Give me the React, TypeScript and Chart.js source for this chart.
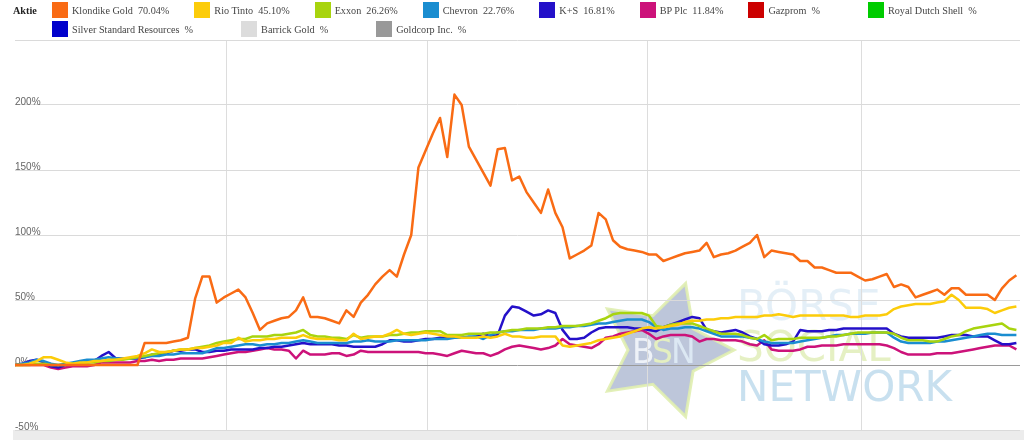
import React, { useEffect, useRef } from "react";
import { Chart, registerables } from "chart.js";

Chart.register(...registerables);

// legend entries (the last five carry no data in this view)
const names = [
  "Klondike Gold",
  "Rio Tinto",
  "Exxon",
  "Chevron",
  "K+S",
  "BP Plc",
  "Gazprom",
  "Royal Dutch Shell",
  "Silver Standard Resources",
  "Barrick Gold",
  "Goldcorp Inc.",
];
const colors = [
  "#f96b14",
  "#fccc0a",
  "#a8d40e",
  "#1a8dd0",
  "#2410c9",
  "#cc127a",
  "#cc0000",
  "#00cc00",
  "#0000cc",
  "#dcdcdc",
  "#999999",
];
const changes = ["70.04", "45.10", "26.26", "22.76", "16.81", "11.84", "", "", "", "", ""];

// performance in % per trading day
const klondike = [
  0, 0, 0, 0, 0, 0, 0, 0, 0, 0,
  0, 0, 0, 0, 0, 0, 0, 0, 17, 17,
  17, 17, 18, 19, 21, 51, 68, 68, 48, 52,
  55, 58, 52, 40, 27, 32, 34, 36, 37, 42,
  52, 37, 37, 36, 34, 32, 42, 37, 48, 54,
  62, 68, 73, 68, 85, 100, 152, 165, 178, 190,
  160, 208, 200, 168, 158, 148, 138, 166, 167, 142,
  145, 133, 125, 117, 135, 117, 106, 82, 85, 88,
  92, 117, 112, 96, 91, 89, 88, 87, 85, 85,
  80, 82, 84, 86, 87, 88, 94, 83, 85, 86,
  88, 91, 94, 100, 83, 88, 87, 86, 85, 80,
  80, 75, 75, 73, 71, 71, 71, 68, 65, 66,
  68, 70, 60, 62, 60, 52, 54, 56, 58, 54,
  59, 59, 54, 54, 54, 54, 50, 59, 65, 69,
];
const rioTinto = [
  0, 0, 1, 3, 6, 6, 4, 2, 1, 2,
  2, 3, 3, 4, 4, 5, 6, 7, 9, 12,
  10, 10, 11, 12, 12, 13, 13, 14, 15, 17,
  17, 21, 18, 19, 19, 20, 20, 21, 21, 21,
  23, 21, 20, 20, 20, 19, 19, 24, 20, 21,
  22, 22, 24, 27, 24, 23, 24, 25, 24, 23,
  22, 22, 21, 21, 21, 22, 21, 22, 24, 22,
  22, 21, 21, 22, 22, 22, 15, 14, 15, 16,
  17, 19, 20, 21, 22, 24, 26, 28, 29, 28,
  29, 30, 31, 33, 34, 34, 35, 35, 36, 36,
  37, 37, 37, 37, 38, 38, 39, 38, 37, 38,
  38, 38, 38, 38, 38, 38, 37, 37, 38, 38,
  38, 39, 43, 45, 46, 47, 47, 47, 48, 49,
  54, 50, 44, 44, 44, 43, 40, 42, 44, 45,
];
const exxon = [
  0, 0, 0, 1, 1, 0, 0, 0, 1, 1,
  2, 2, 3, 3, 4, 4, 5, 6, 7, 8,
  9, 10, 11, 12, 12, 13, 14, 15, 17, 18,
  19, 20, 20, 22, 22, 22, 23, 23, 24, 25,
  27, 23, 22, 22, 21, 21, 20, 23, 21, 22,
  22, 22, 23, 23, 24, 25, 25, 26, 26, 26,
  23, 23, 23, 24, 24, 24, 25, 25, 26, 27,
  27, 28, 28, 28, 29, 29, 30, 30, 30, 31,
  32, 34, 36, 39, 40, 40, 40, 40, 38, 30,
  29, 31, 32, 32, 32, 30, 28, 26, 24, 24,
  24, 23, 21, 20, 23, 19, 20, 20, 20, 21,
  21, 21, 21, 22, 22, 23, 24, 25, 25, 25,
  25, 25, 24, 21, 19, 19, 19, 18, 18, 20,
  22, 23, 26, 28, 29, 30, 31, 32, 28, 27,
];
const chevron = [
  0, 1, 2, 4, 3, 1, 0, 1, 2, 3,
  4, 4, 5, 6, 5, 5, 5, 6, 6, 7,
  7, 8, 8, 9, 9, 9, 9, 11, 13, 13,
  14, 15, 16, 16, 15, 16, 16, 17, 17, 18,
  19, 18, 17, 17, 17, 17, 17, 18, 18, 19,
  18, 18, 18, 19, 19, 19, 19, 19, 20, 20,
  20, 21, 21, 22, 22, 20, 23, 25, 26, 26,
  27, 27, 27, 28, 28, 28, 29, 29, 30, 30,
  31, 32, 32, 33, 34, 35, 35, 35, 33, 29,
  27, 28, 28, 29, 29, 28, 26, 24, 22, 22,
  22, 22, 21, 20, 18, 17, 17, 17, 17, 18,
  19, 20, 21, 22, 23, 23, 24, 24, 24, 25,
  25, 25, 21, 18, 17, 17, 17, 17, 18, 18,
  19, 20, 21, 22, 23, 24, 24, 23, 23, 23,
];
const kPlusS = [
  0, 1, 3, 4, 2, -1, -2, 0, 1, 1,
  2, 3, 7, 10, 5, 5, 5, 5, 6, 8,
  8, 9, 11, 11, 12, 12, 10, 10, 11, 11,
  12, 12, 12, 12, 13, 13, 14, 14, 15, 16,
  17, 16, 16, 16, 16, 15, 15, 14, 14, 14,
  14, 16, 19, 19, 18, 18, 19, 20, 20, 21,
  21, 21, 21, 21, 22, 24, 22, 23, 38, 45,
  44, 41, 38, 39, 42, 40, 27, 20, 20, 21,
  25, 28, 29, 29, 29, 29, 28, 28, 27, 26,
  29, 31, 33, 35, 37, 36, 27, 26, 25, 26,
  27, 25, 22, 20, 16, 15, 15, 16, 18, 27,
  26, 26, 26, 27, 27, 28, 28, 28, 28, 28,
  28, 28, 24, 22, 21, 21, 21, 21, 21, 22,
  23, 23, 23, 22, 22, 22, 19, 16, 16, 17,
];
const bpPlc = [
  0, 0, 0, 0, 0, -2, -3, -2, -1, -1,
  -1, 0, 2, 2, 2, 2, 2, 3, 3, 4,
  3, 4, 4, 5, 5, 5, 5, 6, 7, 8,
  9, 10, 10, 11, 12, 13, 12, 12, 11, 5,
  11, 8, 8, 8, 9, 9, 7, 8, 11, 10,
  10, 10, 10, 10, 10, 10, 10, 9, 9, 8,
  7, 9, 11, 10, 9, 9, 7, 9, 12, 14,
  15, 14, 13, 12, 13, 15, 20, 16, 15, 14,
  13, 16, 21, 22, 24, 25, 26, 27, 24, 20,
  22, 23, 23, 23, 22, 18, 20, 20, 19, 19,
  19, 18, 16, 15, 19, 12, 11, 11, 11, 12,
  14, 14, 15, 15, 15, 16, 16, 16, 16, 16,
  16, 15, 13, 10, 8, 8, 8, 8, 9, 9,
  9, 10, 11, 12, 13, 14, 15, 15, 15, 12,
];
const series = [klondike, rioTinto, exxon, chevron, kPlusS, bpPlc];

// month boundaries, in trading-day units
const monthBreaks = [29.3, 57.2, 87.8, 117.5];

const watermark = {
  id: "bsnWatermark",
  beforeDraw(chart: any) {
    const { ctx, chartArea } = chart;
    ctx.save();
    ctx.fillStyle = "#ffffff";
    ctx.fillRect(0, 0, chart.width, chart.height);
    ctx.fillStyle = "#ececec";
    ctx.fillRect(chartArea.left - 2, chartArea.bottom, chart.width, chart.height - chartArea.bottom);

    // star
    const cx = 664;
    const cy = 350;
    const R = 70;
    const r = 36;
    ctx.beginPath();
    for (let k = 0; k < 10; k++) {
      const ang = ((-72 + k * 36) * Math.PI) / 180;
      const rad = k % 2 === 0 ? R : r;
      const px = cx + rad * Math.cos(ang);
      const py = cy + rad * Math.sin(ang);
      if (k === 0) ctx.moveTo(px, py);
      else ctx.lineTo(px, py);
    }
    ctx.closePath();
    ctx.fillStyle = "rgba(178,188,212,0.85)";
    ctx.fill();
    ctx.lineWidth = 3;
    ctx.strokeStyle = "rgba(224,238,176,0.9)";
    ctx.stroke();

    ctx.textBaseline = "alphabetic";
    ctx.font = '33px "DejaVu Sans", sans-serif';
    ctx.fillStyle = "#eef2f8";
    ctx.fillText("B", 632, 363);
    ctx.fillStyle = "#e4efc0";
    ctx.fillText("S", 652, 363);
    ctx.fillStyle = "#dce8f3";
    ctx.fillText("N", 671, 363);

    ctx.font = '42px "DejaVu Sans", sans-serif';
    ctx.fillStyle = "rgba(205,226,240,0.55)";
    ctx.fillText("BÖRSE", 737, 320);
    ctx.fillStyle = "rgba(222,236,180,0.8)";
    ctx.fillText("SOCIAL", 737, 361);
    ctx.fillStyle = "rgba(190,218,236,0.85)";
    ctx.fillText("NETWORK", 737, 401);
    ctx.restore();
  },
};

const PerformanceChart: React.FC = () => {
  const canvasRef = useRef<HTMLCanvasElement | null>(null);

  useEffect(() => {
    if (!canvasRef.current) return;
    const chart = new Chart(canvasRef.current, {
      type: "line",
      data: {
        datasets: series.map((values, s) => ({
          label: names[s],
          data: values.map((v, i) => ({ x: i, y: v })),
          borderColor: colors[s],
          backgroundColor: colors[s],
          borderWidth: 2.5,
          pointRadius: 0,
          tension: 0,
          fill: false,
          borderJoinStyle: "round",
        })),
      },
      options: {
        animation: false,
        responsive: true,
        maintainAspectRatio: false,
        layout: { padding: { left: 15, right: 4, top: 40, bottom: 10 } },
        plugins: {
          legend: { display: false },
          tooltip: { enabled: false },
        },
        scales: {
          x: {
            type: "linear",
            min: 0,
            max: 139.5,
            afterBuildTicks: (scale: any) => {
              scale.ticks = monthBreaks.map((v) => ({ value: v }));
            },
            ticks: { display: false },
            grid: { color: "#dddddd", drawTicks: false },
            border: { display: false },
          },
          y: {
            min: -50,
            max: 250,
            ticks: {
              stepSize: 50,
              mirror: true,
              padding: 0,
              labelOffset: -3,
              color: "#666",
              font: { family: '"Liberation Sans", Arial, sans-serif', size: 10 },
              callback: (v: any) => (v === 250 ? "" : v + "%"),
            },
            grid: {
              drawTicks: false,
              color: (c: any) => (c.tick && c.tick.value === 0 ? "#9a9a9a" : "#dadada"),
            },
            border: { display: false },
          },
        },
      },
      plugins: [watermark],
    });
    return () => chart.destroy();
  }, []);

  const item = (i: number) => (
    <div
      key={names[i]}
      style={{ display: "flex", alignItems: "center", height: 16, marginRight: changes[i] ? 25 : 48 }}
    >
      <span style={{ display: "inline-block", width: 16, height: 16, background: colors[i], marginRight: 4 }} />
      <span style={{ whiteSpace: "pre" }}>{names[i] + "  " + changes[i] + "%"}</span>
    </div>
  );

  return (
    <div style={{ position: "absolute", left: 0, top: 0, width: 1024, height: 440, background: "#fff" }}>
      <canvas ref={canvasRef} />
      <div
        style={{
          position: "absolute",
          left: 0,
          top: 0,
          width: 1024,
          height: 40,
          font: '10.2px "Liberation Serif", "Times New Roman", serif',
          color: "#444",
        }}
      >
        <span style={{ position: "absolute", left: 13, top: 5, fontWeight: "bold", color: "#222" }}>Aktie</span>
        <div style={{ position: "absolute", left: 52, top: 2, display: "flex" }}>
          {names.slice(0, 8).map((_, i) => item(i))}
        </div>
        <div style={{ position: "absolute", left: 52, top: 21, display: "flex" }}>
          {names.slice(8).map((_, i) => item(i + 8))}
        </div>
      </div>
    </div>
  );
};

export default function App() {
  return <PerformanceChart />;
}
